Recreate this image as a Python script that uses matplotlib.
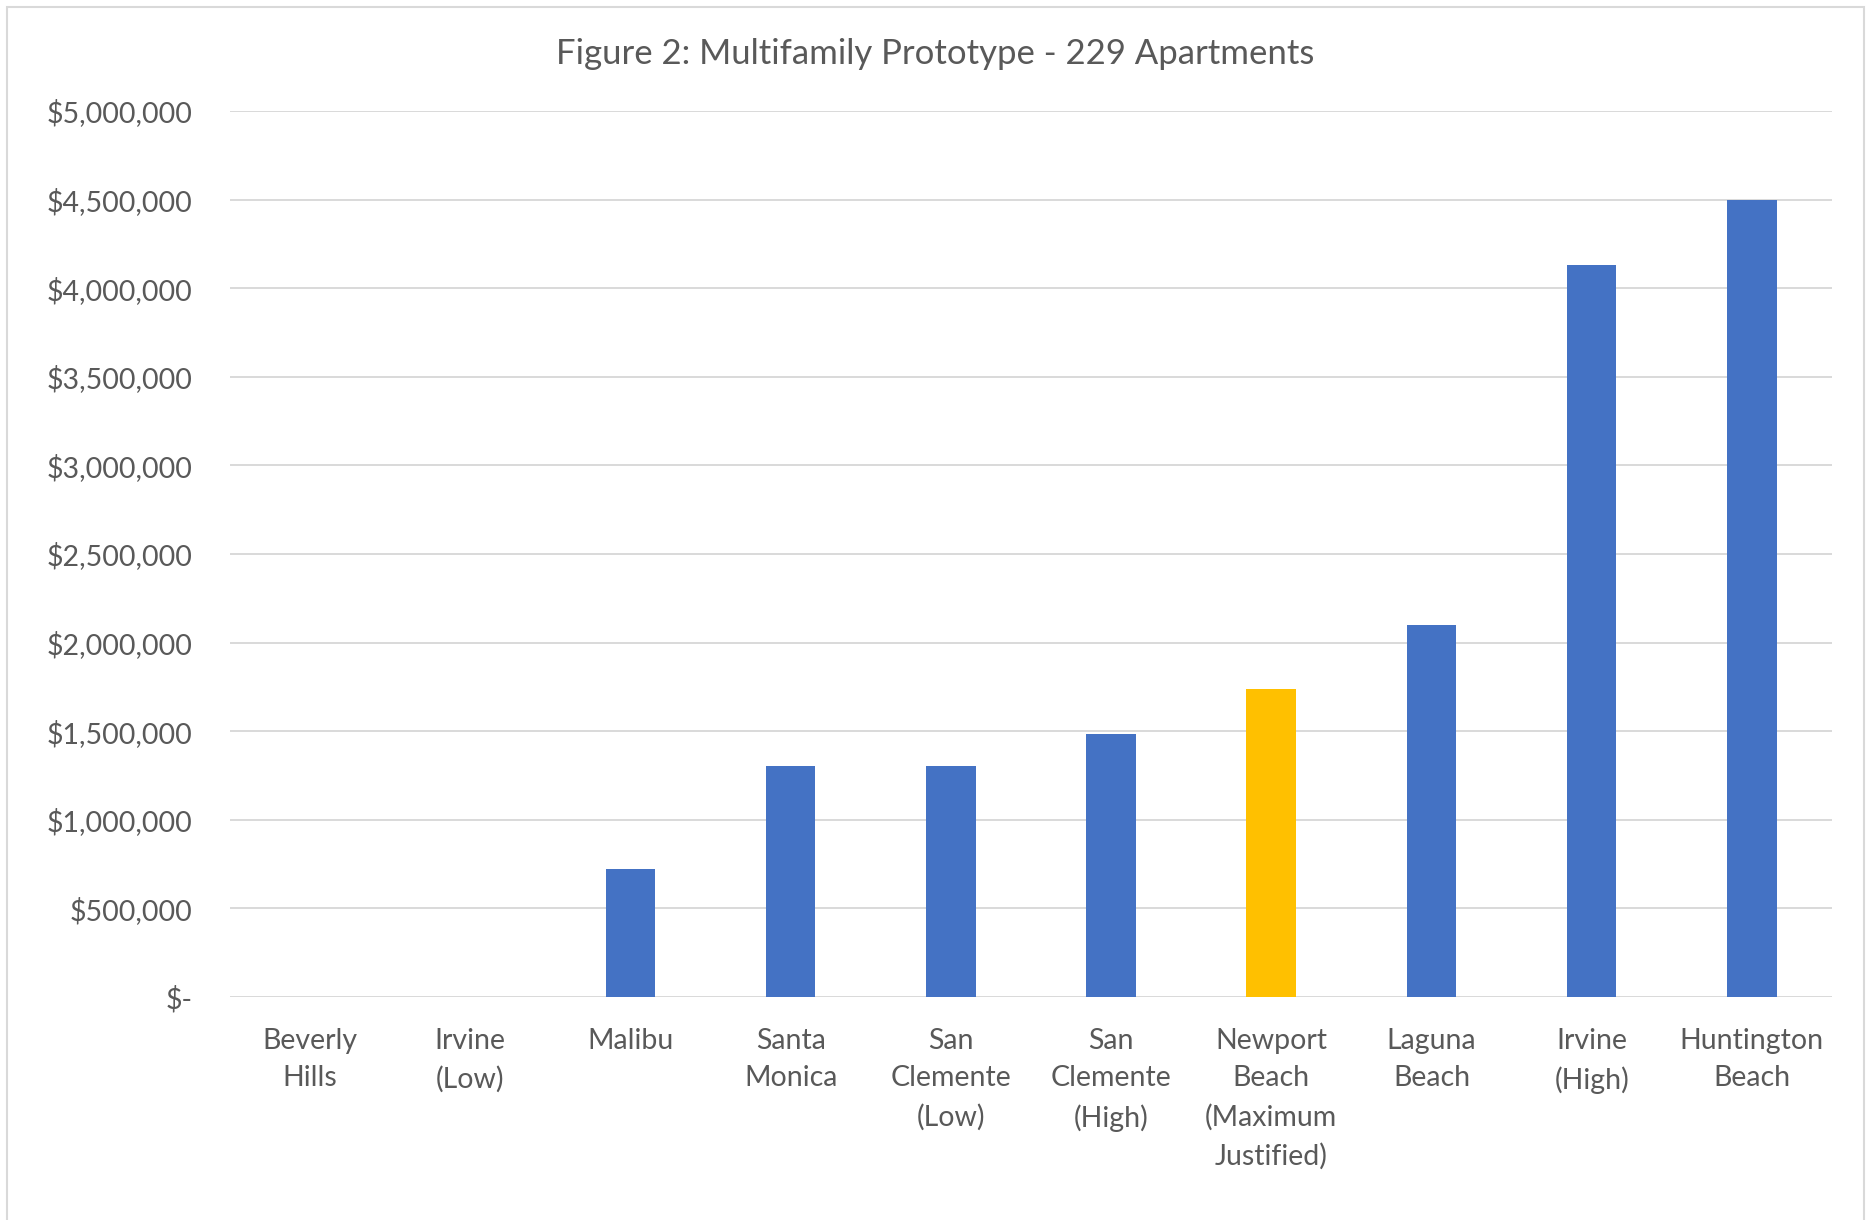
import matplotlib
matplotlib.use("Agg")
import matplotlib.pyplot as plt
from matplotlib.patches import Rectangle
from matplotlib.ticker import FuncFormatter, MultipleLocator

plt.rcParams['font.family'] = ['Lato', 'DejaVu Sans']

# Data
cities = ['Beverly\nHills', 'Irvine\n(Low)', 'Malibu', 'Santa\nMonica',
          'San\nClemente\n(Low)', 'San\nClemente\n(High)',
          'Newport\nBeach\n(Maximum\nJustified)', 'Laguna\nBeach',
          'Irvine\n(High)', 'Huntington\nBeach']
values = [0, 0, 720000, 1305000, 1305000, 1485000, 1740000, 2100000, 4130000, 4500000]
highlight = 'Newport\nBeach\n(Maximum\nJustified)'

blue = '#4472c4'
gold = '#ffc000'
text_col = '#595959'
grid_col = '#d9d9d9'

fig = plt.figure(figsize=(18.68, 12.2), dpi=100)
ax = fig.add_axes([0.1231, 0.1828, 0.8576, 0.7262])

colors = [gold if c == highlight else blue for c in cities]
x = list(range(len(cities)))
ax.bar(x, values, width=0.31, color=colors, zorder=3)

ax.set_xlim(-0.5, len(cities) - 0.5)
ax.set_ylim(0, 5000000)
ax.yaxis.set_major_locator(MultipleLocator(500000))


def money(v, pos):
    if v == 0:
        return '$-'
    return '${:,.0f}'.format(v)


ax.yaxis.set_major_formatter(FuncFormatter(money))
ax.grid(axis='y', color=grid_col, linewidth=1.4, zorder=0)
ax.set_axisbelow(True)
for s in ax.spines.values():
    s.set_visible(False)

ax.set_xticks(x)
ax.set_xticklabels(cities, linespacing=1.56)
ax.tick_params(axis='x', length=0, pad=22, labelsize=20.5, labelcolor=text_col)
ax.tick_params(axis='y', length=0, pad=27, labelsize=20.5, labelcolor=text_col)

fig.text(0.5005, 0.956, 'Figure 2: Multifamily Prototype - 229 Apartments',
         ha='center', va='center', fontsize=25, color=text_col)

# chart frame
fig.patches.append(Rectangle((7 / 1868, -0.05), (1864 - 7) / 1868, 1.05 - 7 / 1220,
                             transform=fig.transFigure, fill=False,
                             edgecolor=grid_col, linewidth=1.5))

fig.savefig('out.png', dpi=100, facecolor='white')
